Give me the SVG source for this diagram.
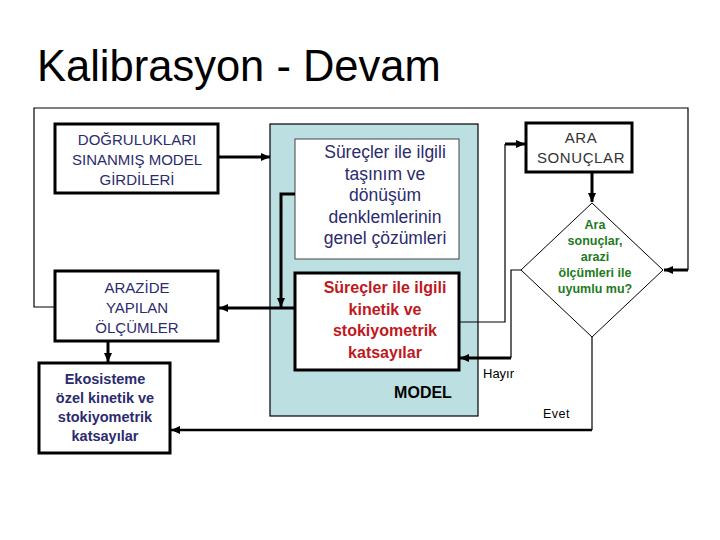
<svg xmlns="http://www.w3.org/2000/svg" width="720" height="540" viewBox="0 0 720 540">
<defs>
<style>
text{font-family:"Liberation Sans",Arial,sans-serif;text-anchor:middle}
.box{fill:#fff;stroke:#000;stroke-width:3}
.navy{fill:#2b2b6e}
.thin{fill:none;stroke:#000;stroke-width:1.2}
.thick{fill:none;stroke:#000;stroke-width:3}
</style>
<marker id="ah" markerUnits="userSpaceOnUse" markerWidth="10" markerHeight="10" refX="9" refY="5" orient="auto">
<path d="M0,1 L9,5 L0,9 z" fill="#000"/>
</marker>
</defs>
<rect width="720" height="540" fill="#fff"/>
<text x="37" y="81" style="text-anchor:start;font-size:43.5px" fill="#000">Kalibrasyon - Devam</text>

<g id="model">
<rect x="270" y="124" width="208" height="292" fill="#bcdfe2" stroke="#000" stroke-width="1.2"/>
<text x="423" y="398" style="font-size:16px;font-weight:bold" fill="#000">MODEL</text>
</g>
<g id="genel">
<rect x="295" y="139" width="164" height="120" fill="#fff" stroke="#444" stroke-width="1"/>
<g class="navy" style="font-size:17.5px">
<text x="385" y="158">Süreçler ile ilgili</text>
<text x="385" y="180">taşınım ve</text>
<text x="385" y="201">dönüşüm</text>
<text x="385" y="223">denklemlerinin</text>
<text x="385" y="244">genel çözümleri</text>
</g>
</g>
<g id="kinetik">
<rect class="box" x="295" y="273" width="164" height="97"/>
<g fill="#c01820" style="font-size:16px;font-weight:bold">
<text x="385" y="293">Süreçler ile ilgili</text>
<text x="385" y="315">kinetik ve</text>
<text x="385" y="336">stokiyometrik</text>
<text x="385" y="358">katsayılar</text>
</g>
</g>
<g id="girdiler">
<rect class="box" x="55" y="124" width="163" height="69"/>
<g class="navy" style="font-size:15px">
<text x="137" y="145">DOĞRULUKLARI</text>
<text x="137" y="165">SINANMIŞ MODEL</text>
<text x="137" y="185">GİRDİLERİ</text>
</g>
</g>
<g id="olcumler">
<rect class="box" x="55" y="271" width="163" height="70"/>
<g class="navy" style="font-size:15px">
<text x="137" y="293">ARAZİDE</text>
<text x="137" y="313">YAPILAN</text>
<text x="137" y="333">ÖLÇÜMLER</text>
</g>
</g>
<g id="ekosistem">
<rect class="box" x="39" y="363" width="131" height="90"/>
<g class="navy" style="font-size:14.5px;font-weight:bold">
<text x="105" y="384">Ekosisteme</text>
<text x="105" y="403">özel kinetik ve</text>
<text x="105" y="422">stokiyometrik</text>
<text x="105" y="441">katsayılar</text>
</g>
</g>
<g id="ara">
<rect class="box" x="526" y="123" width="106" height="49"/>
<g fill="#333" style="font-size:15px;letter-spacing:0.6px">
<text x="581" y="143">ARA</text>
<text x="581" y="163">SONUÇLAR</text>
</g>
</g>
<g id="karar">
<polygon points="592,203 663,270 592,337 521,270" fill="#fff" stroke="#000" stroke-width="1"/>
<g fill="#1e7a1e" style="font-size:12.5px;font-weight:bold">
<text x="595" y="229">Ara</text>
<text x="595" y="245">sonuçlar,</text>
<text x="595" y="261">arazi</text>
<text x="595" y="277">ölçümleri ile</text>
<text x="595" y="293">uyumlu mu?</text>
</g>
</g>

<g id="connectors">
<polyline class="thin" points="55,307 34,307 34,108 688,108 688,270"/>
<line class="thick" x1="688" y1="270" x2="664" y2="270" marker-end="url(#ah)"/>
<line class="thick" x1="218" y1="157" x2="270" y2="157" marker-end="url(#ah)"/>
<polyline class="thick" points="295,194 281,194 281,307" marker-end="url(#ah)"/>
<line class="thick" x1="295" y1="308" x2="219" y2="308" marker-end="url(#ah)"/>
<line class="thick" x1="108" y1="341" x2="108" y2="362" marker-end="url(#ah)"/>
<polyline class="thin" points="459,322 505,322 505,144"/>
<line class="thick" x1="505" y1="144" x2="525" y2="144" marker-end="url(#ah)"/>
<line class="thick" x1="592" y1="172" x2="592" y2="202" marker-end="url(#ah)"/>
<polyline class="thin" points="521,270 511,270 511,358"/>
<line class="thick" x1="511" y1="358" x2="460" y2="358" marker-end="url(#ah)"/>
<line class="thin" x1="592" y1="337" x2="592" y2="430"/>
<line class="thick" x1="592" y1="430" x2="171" y2="430" marker-end="url(#ah)" style="stroke-width:2.5"/>
</g>
<text x="483" y="378" style="text-anchor:start;font-size:13px" fill="#000">Hayır</text>
<text x="543" y="418" style="text-anchor:start;font-size:12.5px;letter-spacing:0.5px" fill="#000">Evet</text>
</svg>
